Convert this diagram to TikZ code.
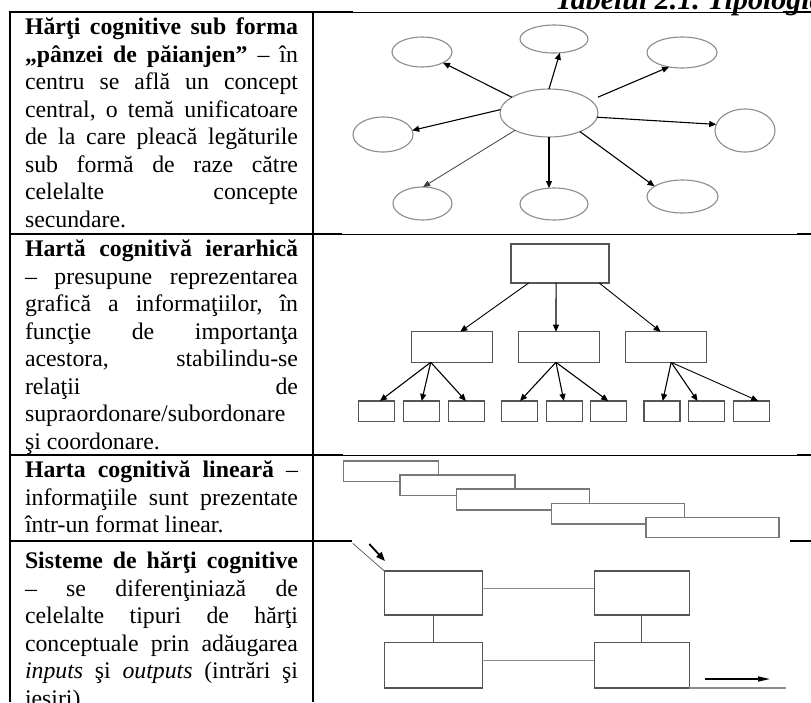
\documentclass[tikz,border=0pt]{standalone}
\usepackage{fontspec}
\setmainfont{Liberation Serif}
\usetikzlibrary{shapes.geometric,arrows.meta,calc}
\definecolor{ellgray}{RGB}{140,140,140}
\definecolor{boxgray}{RGB}{85,85,85}
\definecolor{lingray}{RGB}{120,120,120}
\frenchspacing
\tolerance=10000
\hyphenpenalty=10000
\exhyphenpenalty=10000
\hbadness=10000
\begin{document}
\begin{tikzpicture}[x=1pt,y=-1pt,
  tline/.style={line width=1.8pt,black},
  iline/.style={line width=1pt,black},
  celltext/.style={anchor=north west,inner sep=0pt,outer sep=0pt,text width=273pt,align=justify,font=\fontsize{23.8}{27.5}\selectfont},
  ell/.style={draw=ellgray,line width=1.1pt,ellipse,inner sep=0pt,outer sep=0pt},
  arr/.style={-{Triangle[length=7pt,width=6pt]},line width=1.1pt,black},
  rbox/.style={draw=boxgray,line width=1.1pt,rectangle,inner sep=0pt,outer sep=0pt},
  lbox/.style={draw=lingray,fill=white,line width=1.1pt,rectangle,inner sep=0pt,outer sep=0pt},
  sbox/.style={draw=boxgray,line width=1.2pt,rectangle,inner sep=0pt,outer sep=0pt},
  hconn/.style={draw=ellgray,line width=1.1pt},
  vconn/.style={draw=boxgray,line width=1.3pt}
]
\useasboundingbox (0,0) rectangle (811,702);
\clip (0,0) rectangle (811,702);
\fill[white] (0,0) rectangle (811,702);

% title
\node[anchor=base west,inner sep=0pt,font=\fontsize{30}{34}\selectfont\bfseries\itshape] (title) at (555,9) {Tabelul 2.1. Tipologia};

% table lines
\draw[tline] (9.1,12) -- (353,12);
\draw[iline] (353,12) -- (783,12);
\draw[tline] (783,12) -- (811,12);
\draw[tline] (10,12) -- (10,702);
\draw[tline] (313,12) -- (313,702);
\draw[tline] (10,234) -- (342,234);
\draw[iline] (342,234) -- (797,234);
\draw[tline] (797,234) -- (811,234);
\draw[tline] (10,455) -- (343,455);
\draw[iline] (343,455) -- (797,455);
\draw[tline] (797,455) -- (811,455);
\draw[tline] (10,541) -- (352,541);
\draw[tline] (790,541) -- (811,541);

% texts
\node[celltext] (t1) at (25,15.25) {\strut\textbf{Hărţi cognitive sub forma\linebreak „pânzei de păianjen”} – în\linebreak centru se află un concept\linebreak central, o temă unificatoare\linebreak de la care pleacă legăturile\linebreak sub formă de raze către\linebreak celelalte concepte\linebreak secundare.};
\node[celltext] (t2) at (25,237.25) {\strut\textbf{Hartă cognitivă ierarhică}\linebreak – presupune reprezentarea\linebreak grafică a informaţiilor, în\linebreak funcţie de importanţa\linebreak acestora, stabilindu-se\linebreak relaţii de\linebreak supraordonare/subordonare\linebreak şi coordonare.};
\node[celltext] (t3) at (25,458.25) {\strut\textbf{Harta cognitivă lineară} –\linebreak informaţiile sunt prezentate\linebreak într-un format linear.};
\node[celltext] (t4) at (25,549.5) {\strut\textbf{Sisteme de hărţi cognitive}\linebreak – se diferenţiniază de\linebreak celelalte tipuri de hărţi\linebreak conceptuale prin adăugarea\linebreak \textit{inputs} şi \textit{outputs} (intrări şi\linebreak ieşiri)};

% spider map
\node[ell,minimum width=98pt,minimum height=48pt] (c) at (549,113) {};
\node[ell,minimum width=68pt,minimum height=28pt] (tc) at (554,39) {};
\node[ell,minimum width=60pt,minimum height=30pt] (tl) at (422,52) {};
\node[ell,minimum width=70pt,minimum height=31pt] (tr) at (682,52.5) {};
\node[ell,minimum width=60pt,minimum height=35pt] (ml) at (383,134.5) {};
\node[ell,minimum width=60pt,minimum height=43pt] (mr) at (745,130.5) {};
\node[ell,minimum width=59pt,minimum height=33pt] (bl) at (422.5,203.5) {};
\node[ell,minimum width=68pt,minimum height=32pt] (bc) at (554,204) {};
\node[ell,minimum width=71pt,minimum height=33pt] (br) at (682.5,196.5) {};
\draw[arr] (c.157) -- (tl.-27);
\draw[arr] (c.90) -- (tc.-67);
\draw[arr,shorten <=8pt] (c.17) -- (tr.-132);
\draw[arr] (c.176) -- (ml.8);
\draw[arr] (c.-5) -- (mr.168);
\draw[arr,line width=0.8pt,draw=black!75] (c.207) -- (bl.88);
\draw[arr] (c.south) -- (c.south |- bc.north);
\draw[arr] (c.-31) -- (br.160);

% hierarchy
\node[rbox,minimum width=98pt,minimum height=39pt] (h0) at (560,263.5) {};
\node[rbox,minimum width=81pt,minimum height=30.6pt] (h1) at (452.2,347) {};
\node[rbox,minimum width=81pt,minimum height=30.6pt] (h2) at (559.2,347) {};
\node[rbox,minimum width=81pt,minimum height=30.6pt] (h3) at (666.3,347) {};
\foreach \n/\x in {1/376.7,2/421.7,3/466.3,4/519.7,5/564.2,6/608.9,7/662,8/706.9,9/751.3}
  \node[rbox,minimum width=36pt,minimum height=20.7pt] (g\n) at (\x,411.3) {};
\draw[arr,line width=0.9pt] ($(h0.south west)!.18!(h0.south east)$) -- ($(h1.north west)!.6!(h1.north east)$);
\draw[arr] ($(h0.south west)!.46!(h0.south east)$) -- ($(h2.north west)!.46!(h2.north east)$);
\draw[arr,line width=0.9pt] ($(h0.south west)!.9!(h0.south east)$) -- ($(h3.north west)!.43!(h3.north east)$);
\draw[arr] ($(h1.south west)!.235!(h1.south east)$) -- ($(g1.north west)!.59!(g1.north east)$);
\draw[arr] ($(h1.south west)!.235!(h1.south east)$) -- ($(g2.north west)!.5!(g2.north east)$);
\draw[arr] ($(h1.south west)!.235!(h1.south east)$) -- ($(g3.north west)!.49!(g3.north east)$);
\draw[arr] ($(h2.south west)!.46!(h2.south east)$) -- ($(g4.north west)!.51!(g4.north east)$);
\draw[arr] ($(h2.south west)!.46!(h2.south east)$) -- ($(g5.north west)!.49!(g5.north east)$);
\draw[arr] ($(h2.south west)!.46!(h2.south east)$) -- ($(g6.north west)!.48!(g6.north east)$);
\draw[arr] ($(h3.south west)!.56!(h3.south east)$) -- ($(g7.north west)!.52!(g7.north east)$);
\draw[arr] ($(h3.south west)!.56!(h3.south east)$) -- ($(g8.north west)!.24!(g8.north east)$);
\draw[arr,line width=0.9pt] ($(h3.south west)!.56!(h3.south east)$) -- ($(g9.north west)!.69!(g9.north east)$);

% linear map
\node[lbox,minimum width=95pt,minimum height=20.7pt] (l1) at (390.8,471.35) {};
\node[lbox,minimum width=115pt,minimum height=20.7pt] (l2) at (457.5,485.35) {};
\node[lbox,minimum width=132.6pt,minimum height=21pt] (l3) at (523,499.5) {};
\node[lbox,minimum width=132.6pt,minimum height=20.7pt] (l4) at (618,513.65) {};
\node[lbox,minimum width=133pt,minimum height=20.4pt] (l5) at (712.5,527.5) {};

% systems
\node[sbox,minimum width=98pt,minimum height=44pt] (sa) at (433.3,593) {};
\node[sbox,minimum width=95pt,minimum height=44pt] (sb) at (641.8,593) {};
\node[sbox,minimum width=98pt,minimum height=45.3pt] (sc) at (433.3,665.35) {};
\node[sbox,minimum width=95pt,minimum height=45.3pt] (sd) at (641.8,665.35) {};
\draw[hconn] ($(sa.north east)!.4!(sa.south east)$) -- ($(sb.north west)!.4!(sb.south west)$);
\draw[hconn] ($(sc.north east)!.4!(sc.south east)$) -- ($(sd.north west)!.4!(sd.south west)$);
\draw[vconn] (sa.south) -- (sc.north);
\draw[vconn] (sb.south) -- (sd.north);
\coordinate (dg) at (352.7,543.3);
\draw[draw=boxgray,line width=0.7pt] (dg) -- (sa.north west);
\coordinate (ins) at (369.3,544);
\coordinate (ine) at (385,561);
\draw[-{Triangle[length=9pt,width=7pt]},line width=1.8pt] (ins) -- (ine);
\coordinate (outs) at (705,679);
\coordinate (oute) at (770,679);
\draw[-{Triangle[length=12pt,width=5pt]},line width=1.3pt] (outs) -- (oute);
\coordinate (bline) at (786,688);
\draw[draw=ellgray,line width=1.2pt] (sd.south east) -- (bline);
\end{tikzpicture}
\end{document}
